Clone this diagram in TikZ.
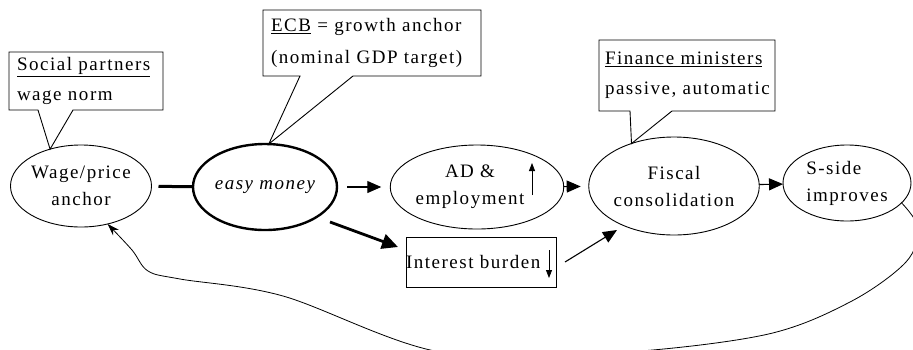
\documentclass[tikz,border=0pt]{standalone}
\usepackage{fontspec}
\setmainfont[LetterSpace=8]{Liberation Serif}
\usetikzlibrary{shapes.geometric,arrows.meta,calc}
\begin{document}
\begin{tikzpicture}[x=1pt,y=-1pt,
  font=\fontsize{19}{27}\selectfont,
  ell/.style={ellipse,draw,line width=0.9pt,inner sep=0pt,outer sep=0pt,align=center},
  cbox/.style={inner xsep=8pt,inner ysep=0pt,outer sep=0pt,anchor=north west,align=left,
     font=\fontsize{19}{30}\selectfont},
  outline/.style={line width=0.9pt,line join=miter},
  arr/.style={line width=1.1pt,-{Triangle[length=14pt,width=12pt]}},
  thickarr/.style={line width=2.8pt,-{Triangle[length=16pt,width=15pt]}},
  smallarr/.style={line width=0.8pt,-{Triangle[length=8pt,width=6pt]}},
  loopline/.style={line width=0.8pt,-{Stealth[length=12pt,width=8pt]}}]
\useasboundingbox (0,0) rectangle (913,349);
\fill[white] (0,0) rectangle (913,349);

% ellipses
\node[ell,minimum width=128,minimum height=82] (W) at (81,186) {Wage/price\\anchor};
\node[ell,line width=2.4pt,minimum width=144,minimum height=86] (E) at (265,187) {\itshape easy money};
\node[ell,minimum width=142,minimum height=84] (A) at (477,187) {AD \&\hspace*{14pt}\\employment\hspace*{14pt}};
\node[ell,minimum width=152,minimum height=98] (F) at (674,186) {Fiscal\\consolidation};
\node[ell,minimum width=128,minimum height=76,align=left] (S) at (847,183) {S-side\\improves};

% interest box
\node[draw,line width=0.9pt,minimum width=150,minimum height=50,inner xsep=0pt,outer sep=0pt,
      anchor=north west,text width=150,align=left] (I) at (406,237) {\raisebox{-4pt}{Interest burden}};

% callout boxes
\node[cbox,minimum width=154,minimum height=58,text width=138] (SP) at (9,52)
   {\underline{Social partners}\\wage norm};
\node[cbox,minimum width=218,minimum height=66,text width=202,font=\fontsize{19}{32}\selectfont] (ECB) at (263,10)
   {\underline{ECB} = growth anchor\\(nominal GDP target)};
\node[cbox,inner xsep=6pt,minimum width=176,minimum height=71,text width=164] (FM) at (599,40)
   {\underline{Finance ministers}\\passive, automatic};

\draw[outline] ($(SP.south west)+(29,0)$) -- (SP.south west) -- (SP.north west) -- (SP.north east)
   -- (SP.south east) -- ($(SP.south west)+(64,0)$) -- (W.130) -- cycle;
\draw[outline] ($(ECB.south west)+(37,0)$) -- (ECB.south west) -- (ECB.north west) -- (ECB.north east)
   -- (ECB.south east) -- ($(ECB.south west)+(90,0)$) -- (E.85) -- cycle;
\draw[outline] ($(FM.south west)+(31,0)$) -- (FM.south west) -- (FM.north west) -- (FM.north east)
   -- (FM.south east) -- ($(FM.south west)+(73,0)$) -- (F.135) -- cycle;

% connectors
\draw[line width=3pt,shorten <=7pt] (W) -- (E);
\draw[arr,shorten <=10pt,shorten >=9pt] (E) -- (A);
\draw[arr,shorten >=8pt] (A) -- (F);
\draw[arr] (F) -- (S);
\draw[thickarr] ($(E.center)+(65,35)$) -- ($(I.north west)+(-8,10)$);
\draw[arr] ($(I.east)+(9,0)$) -- ($(F.center)+(-57,44)$);

% small up/down arrows
\draw[smallarr] ($(A.center)+(55,8)$) -- ($(A.center)+(55,-24)$);
\draw[smallarr] ($(I.north west)+(143,13)$) -- ($(I.north west)+(143,41)$);

% feedback loop
\draw[loopline] plot[smooth,tension=0.55] coordinates {(S.-20) (918,228) (906,262) (850,302)
   (764,335) (611,353) (440,352) (283,296) (180,279) (148,271) (132,250) (W.-55)};
\end{tikzpicture}
\end{document}
